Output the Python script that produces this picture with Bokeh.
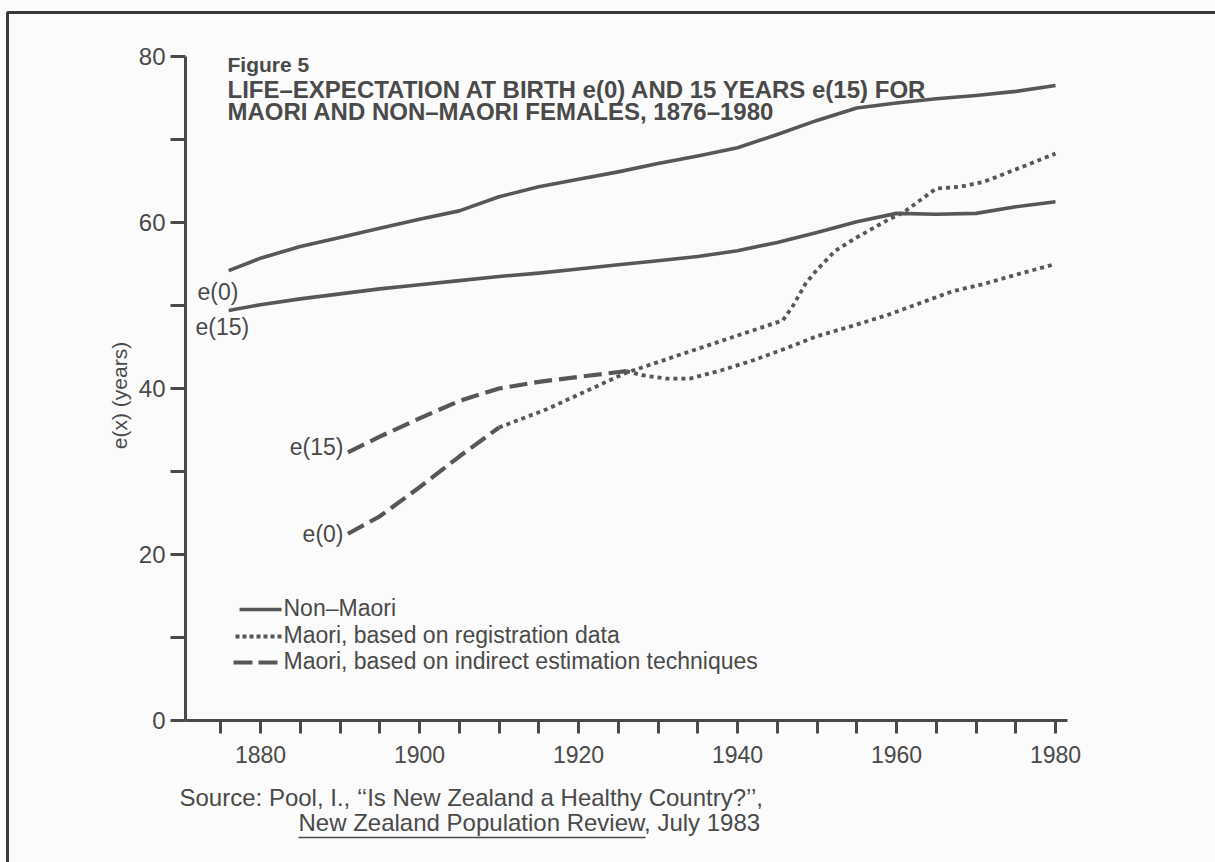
import math
from bokeh.plotting import figure
from bokeh.models import Range1d, LinearAxis, FixedTicker, Label
from bokeh.embed import file_html
from bokeh.resources import INLINE

# ---- data: life expectancy of females (years), New Zealand ----
non_maori_e0_years = [1876, 1880, 1885, 1890, 1895, 1900, 1905, 1910, 1915, 1920, 1925,
                      1930, 1935, 1940, 1945, 1950, 1955, 1960, 1965, 1970, 1975, 1980]
non_maori_e0 = [54.2, 55.7, 57.1, 58.2, 59.3, 60.4, 61.4, 63.1, 64.3, 65.2, 66.1,
                67.1, 68.0, 69.0, 70.6, 72.3, 73.8, 74.4, 74.9, 75.3, 75.8, 76.5]

non_maori_e15_years = [1876, 1880, 1885, 1890, 1895, 1900, 1905, 1910, 1915, 1920, 1925,
                       1930, 1935, 1940, 1945, 1950, 1955, 1960, 1965, 1970, 1975, 1980]
non_maori_e15 = [49.4, 50.1, 50.8, 51.4, 52.0, 52.5, 53.0, 53.5, 53.9, 54.4, 54.9,
                 55.4, 55.9, 56.6, 57.6, 58.8, 60.1, 61.1, 61.0, 61.1, 61.9, 62.5]

maori_est_e0_years = [1891, 1895, 1900, 1905, 1910]
maori_est_e0 = [22.5, 24.6, 28.1, 31.8, 35.3]

maori_est_e15_years = [1891, 1895, 1900, 1905, 1910, 1915, 1920, 1926]
maori_est_e15 = [32.3, 34.2, 36.4, 38.5, 40.0, 40.8, 41.4, 42.1]

maori_reg_e0_years = [1910, 1916, 1921, 1926, 1931, 1936, 1941, 1945.7, 1947, 1948.6, 1950,
                      1952.3, 1955, 1958.7, 1961, 1965, 1968, 1971, 1975, 1980]
maori_reg_e0 = [35.3, 37.5, 39.7, 41.9, 43.5, 45.1, 46.7, 48.2, 50.0, 52.7, 54.3,
                56.6, 58.2, 60.2, 61.3, 64.1, 64.3, 64.9, 66.4, 68.3]

maori_reg_e15_years = [1926, 1928, 1931, 1934, 1938, 1942, 1946, 1950, 1955, 1959,
                       1963, 1967, 1971, 1975, 1980]
maori_reg_e15 = [42.1, 41.6, 41.2, 41.2, 42.2, 43.4, 44.8, 46.3, 47.7, 48.9,
                 50.3, 51.7, 52.6, 53.7, 55.0]

x_tick_years = list(range(1875, 1981, 5))
x_tick_labels = {1880: "1880", 1900: "1900", 1920: "1920", 1940: "1940", 1960: "1960", 1980: "1980"}
y_tick_values = list(range(0, 81, 10))
y_tick_labels = {0: "0", 20: "20", 40: "40", 60: "60", 80: "80"}

# ---- page geometry ----
W, H = 1215, 862
X_REF_PX, X_REF_YR, PX_PER_YR = 260.0, 1880.0, 7.95
Y_ZERO_PX, PX_PER_YEAR_OF_LIFE = 720.0, 8.3

INK = "#4a4a4a"
LINE = "#575757"
FONT = "Liberation Sans"
# the svg text sits a little under the requested baseline; lift it by this share of the size
BASELINE_LIFT = 0.4


def xd(px):
    """page pixel column -> calendar year"""
    return X_REF_YR + (px - X_REF_PX) / PX_PER_YR


def yd(py):
    """page pixel row -> years of life"""
    return (Y_ZERO_PX - py) / PX_PER_YEAR_OF_LIFE


p = figure(width=W, height=H, output_backend="svg", toolbar_location=None,
           x_range=Range1d(xd(0), xd(W)), y_range=Range1d(yd(H), yd(0)),
           x_axis_location=None, y_axis_location=None, min_border=0)
p.outline_line_color = None
p.grid.visible = False
p.background_fill_color = "#fbfbfb"
p.border_fill_color = "#fbfbfb"

AXIS_X = xd(185)

xaxis = LinearAxis(fixed_location=0, bounds=(AXIS_X, 1981.5),
                   ticker=FixedTicker(ticks=x_tick_years),
                   major_label_overrides={t: x_tick_labels.get(t, "") for t in x_tick_years})
yaxis = LinearAxis(fixed_location=AXIS_X, bounds=(0, 80),
                   ticker=FixedTicker(ticks=y_tick_values),
                   major_label_overrides={v: y_tick_labels.get(v, "") for v in y_tick_values})
for ax, tick_out, standoff, fsize in ((xaxis, 13, 12, "23px"), (yaxis, 15, 5, "24px")):
    ax.axis_line_color = INK
    ax.axis_line_width = 3
    ax.major_tick_line_color = INK
    ax.major_tick_line_width = 3
    ax.major_tick_out = tick_out
    ax.major_tick_in = 0
    ax.minor_tick_line_color = None
    ax.major_label_text_font = FONT
    ax.major_label_text_font_size = fsize
    ax.major_label_text_color = INK
    ax.major_label_standoff = standoff
p.add_layout(xaxis, "below")
p.add_layout(yaxis, "left")

# ---- series ----
solid = dict(line_color=LINE, line_width=3.6, line_join="round")
dotted = dict(line_color=LINE, line_width=3.8, line_dash="4 4", line_cap="butt")
dashed = dict(line_color=LINE, line_width=4.2, line_dash="18 7", line_cap="butt")

p.line(non_maori_e0_years, non_maori_e0, **solid)
p.line(non_maori_e15_years, non_maori_e15, **solid)
p.line(maori_est_e0_years, maori_est_e0, **dashed)
p.line(maori_est_e15_years, maori_est_e15, **dashed)
p.line(maori_reg_e0_years, maori_reg_e0, **dotted)
p.line(maori_reg_e15_years, maori_reg_e15, **dotted)


def text(px, py, s, size=23, style="normal", align="left", angle=0.0):
    lift = BASELINE_LIFT * size
    px_draw = px - lift * math.sin(angle)
    py_draw = py - lift * math.cos(angle)
    p.add_layout(Label(x=xd(px_draw), y=yd(py_draw), text=s, text_font=FONT,
                       text_font_size=f"{size}px", text_font_style=style, text_color=INK,
                       text_align=align, text_baseline="alphabetic", angle=angle))


# title block
text(227, 72, "Figure 5", size=21, style="bold")
text(227, 99, "LIFE\u2013EXPECTATION AT BIRTH e(0) AND 15 YEARS e(15) FOR", size=24, style="bold")
text(227, 121, "MAORI AND NON\u2013MAORI FEMALES, 1876\u20131980", size=24, style="bold")

# axis title
text(127, 395, "e(x) (years)", size=21, align="center", angle=math.pi / 2)

# series labels
text(197, 301, "e(0)")
text(195, 336, "e(15)")
text(343, 456, "e(15)", align="right")
text(343, 543, "e(0)", align="right")

# key
p.line([xd(239), xd(281)], [yd(609), yd(609)], **solid)
p.line([xd(235), xd(282)], [yd(636), yd(636)], line_color=LINE, line_width=3.8,
       line_dash="4 3", line_cap="butt")
p.line([xd(233), xd(281)], [yd(662), yd(662)], line_color=LINE, line_width=4.2,
       line_dash="19 6", line_cap="butt")
text(283, 617, "Non\u2013Maori")
text(283, 644, "Maori, based on registration data")
text(283, 670, "Maori, based on indirect estimation techniques")

# source note
text(179, 807, "Source:  Pool, I.,  \u2018\u2018Is New Zealand a Healthy Country?\u2019\u2019,", size=24)
text(298, 832, "New Zealand Population Review, July 1983", size=24)
p.line([xd(298), xd(645)], [yd(837), yd(837)], line_color=INK, line_width=1.5)

# figure frame
p.line([xd(7), xd(7), xd(W)], [yd(H), yd(12), yd(12)], line_color="#3a3a3a", line_width=3)

open("out.html", "w").write(file_html(p, INLINE))
